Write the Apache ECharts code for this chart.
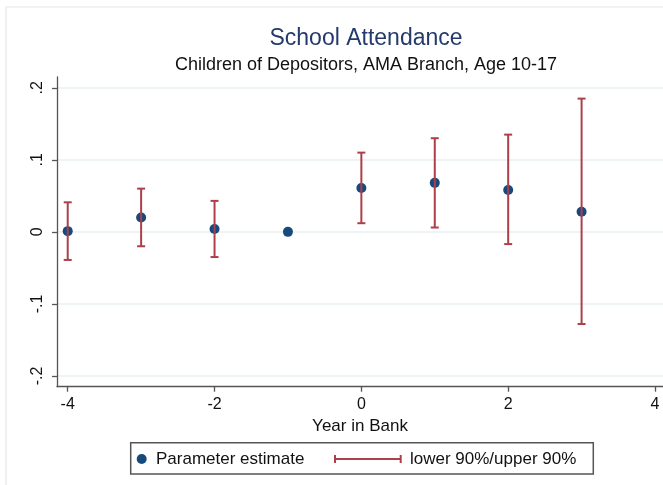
<!DOCTYPE html>
<html>
<head>
<meta charset="utf-8">
<script src="https://cdn.jsdelivr.net/npm/echarts@6/dist/echarts.min.js"></script>
<style>
  html, body { margin: 0; padding: 0; background: #ffffff; }
  #chart { width: 663px; height: 485px; }
</style>
</head>
<body>
<div id="chart"></div>
<script>
// Event-study estimates: school attendance of depositors' children by year in bank
const years = [-4, -3, -2, -1, 0, 1, 2, 3];
const estimate = [0.001, 0.020, 0.004, 0.000, 0.061, 0.068, 0.058, 0.028];
const lower90 = [-0.039, -0.020, -0.035, null, 0.012, 0.006, -0.017, -0.128];
const upper90 = [0.041, 0.060, 0.043, null, 0.110, 0.130, 0.135, 0.185];

const xTicks = [-4, -2, 0, 2, 4];
const yTicks = [-0.2, -0.1, 0, 0.1, 0.2];

const navy = '#174a7c';
const maroon = '#ad3f4b';
const FONT = '"Liberation Sans", Arial, Helvetica, sans-serif';

const fmtY = v => {
  if (Math.abs(v) < 1e-9) return '0';
  const s = (Math.round(v * 10) / 10).toString();
  return s.replace('0.', '.');
};

const points = years.map((x, i) => [x, estimate[i]]);
const bars = [];
years.forEach((x, i) => {
  if (lower90[i] !== null && upper90[i] !== null) bars.push([x, lower90[i], upper90[i]]);
});

const chart = echarts.init(document.getElementById('chart'), null, { renderer: 'canvas' });

chart.setOption({
  backgroundColor: '#ffffff',
  animation: false,
  textStyle: { fontFamily: FONT },
  title: [
    {
      text: 'School Attendance',
      left: 361, top: 22, textAlign: 'center',
      textStyle: { fontFamily: FONT, fontSize: 23, fontWeight: 'normal', color: '#243a6c' }
    },
    {
      text: 'Children of Depositors, AMA Branch, Age 10-17',
      left: 361, top: 51, textAlign: 'center',
      textStyle: { fontFamily: FONT, fontSize: 18, fontWeight: 'normal', color: '#111111' }
    }
  ],
  grid: { left: 57, right: 0, top: 77, bottom: 98.3, containLabel: false },
  xAxis: {
    type: 'value',
    min: -4.146, max: 4.109,
    name: 'Year in Bank',
    nameLocation: 'middle',
    nameGap: 28,
    nameTextStyle: { fontFamily: FONT, fontSize: 17, color: '#111111' },
    axisLine: { show: true, onZero: false, lineStyle: { color: '#555555', width: 1.3 } },
    axisTick: { show: true, length: 5, customValues: xTicks, lineStyle: { color: '#555555', width: 1.3 } },
    axisLabel: { customValues: xTicks, margin: 10, fontFamily: FONT, fontSize: 16, color: '#111111' },
    splitLine: { show: false }
  },
  yAxis: {
    type: 'value',
    min: -0.215, max: 0.215,
    axisLine: { show: true, onZero: false, lineStyle: { color: '#555555', width: 1.3 } },
    axisTick: { show: true, length: 5, customValues: yTicks, lineStyle: { color: '#555555', width: 1.3 } },
    axisLabel: {
      customValues: yTicks, rotate: 90, margin: 11,
      fontFamily: FONT, fontSize: 16, color: '#111111',
      formatter: fmtY
    },
    splitLine: { show: false }
  },
  series: [
    {
      name: 'Parameter estimate',
      type: 'scatter',
      data: points,
      symbol: 'circle',
      symbolSize: 10,
      z: 3,
      itemStyle: { color: navy, opacity: 1 },
      markLine: {
        silent: true,
        symbol: 'none',
        label: { show: false },
        lineStyle: { color: '#e9f0f3', width: 1.6, type: 'solid' },
        data: yTicks.map(v => ({ yAxis: v })),
        z: 0
      }
    },
    {
      name: 'lower 90%/upper 90%',
      type: 'custom',
      data: bars,
      z: 5,
      renderItem: function (params, api) {
        const x = api.value(0);
        const lo = api.coord([x, api.value(1)]);
        const hi = api.coord([x, api.value(2)]);
        const cap = 4;
        const style = { stroke: maroon, lineWidth: 2 };
        return {
          type: 'group',
          children: [
            { type: 'line', shape: { x1: lo[0], y1: lo[1], x2: hi[0], y2: hi[1] }, style: style },
            { type: 'line', shape: { x1: lo[0] - cap, y1: lo[1], x2: lo[0] + cap, y2: lo[1] }, style: style },
            { type: 'line', shape: { x1: hi[0] - cap, y1: hi[1], x2: hi[0] + cap, y2: hi[1] }, style: style }
          ]
        };
      }
    }
  ],
  graphic: [
    // outer frame
    { type: 'rect', shape: { x: 6, y: 7, width: 720, height: 520 }, style: { fill: null, stroke: '#e3e6e8', lineWidth: 1.2 }, silent: true },
    // legend box
    { type: 'rect', shape: { x: 130.7, y: 442.7, width: 462.6, height: 31.3 }, style: { fill: '#ffffff', stroke: '#555555', lineWidth: 1.5 }, silent: true },
    { type: 'circle', shape: { cx: 141.7, cy: 459, r: 5 }, style: { fill: navy }, silent: true },
    { type: 'text', x: 156, y: 459, style: { text: 'Parameter estimate', fontFamily: FONT, fontSize: 17, fill: '#111111', verticalAlign: 'middle' }, silent: true },
    { type: 'line', shape: { x1: 335, y1: 459, x2: 400.7, y2: 459 }, style: { stroke: maroon, lineWidth: 2 }, silent: true },
    { type: 'line', shape: { x1: 335, y1: 455, x2: 335, y2: 463 }, style: { stroke: maroon, lineWidth: 2 }, silent: true },
    { type: 'line', shape: { x1: 400.7, y1: 455, x2: 400.7, y2: 463 }, style: { stroke: maroon, lineWidth: 2 }, silent: true },
    { type: 'text', x: 410, y: 459, style: { text: 'lower 90%/upper 90%', fontFamily: FONT, fontSize: 17, fill: '#111111', verticalAlign: 'middle' }, silent: true }
  ]
});
</script>
</body>
</html>
